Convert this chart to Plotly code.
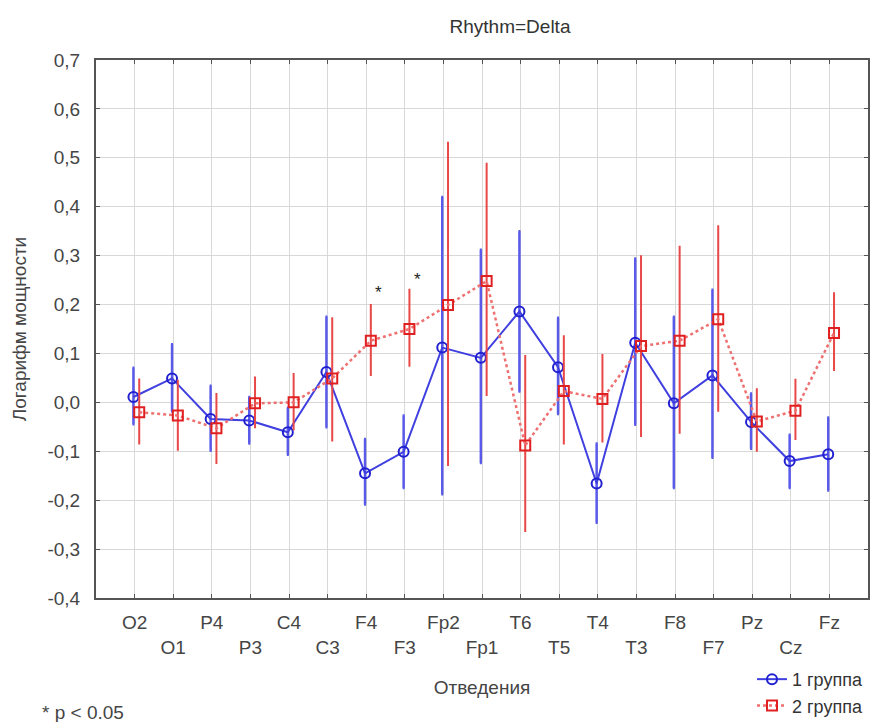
import plotly.graph_objects as go

leads = ["O2", "O1", "P4", "P3", "C4", "C3", "F4", "F3", "Fp2", "Fp1",
         "T6", "T5", "T4", "T3", "F8", "F7", "Pz", "Cz", "Fz"]

g1_mean = [0.011, 0.049, -0.034, -0.037, -0.061, 0.062, -0.145, -0.101, 0.112, 0.091,
           0.186, 0.072, -0.166, 0.122, -0.002, 0.055, -0.040, -0.120, -0.106]
g1_hi = [0.071, 0.119, 0.034, 0.011, -0.011, 0.175, -0.075, -0.027, 0.420, 0.312,
         0.350, 0.173, -0.084, 0.294, 0.175, 0.230, 0.018, -0.066, -0.031]
g1_lo = [-0.045, -0.018, -0.099, -0.084, -0.107, -0.051, -0.209, -0.175, -0.188, -0.124,
         0.022, -0.024, -0.246, -0.046, -0.175, -0.113, -0.095, -0.175, -0.180]

g2_mean = [-0.020, -0.027, -0.053, -0.002, 0.000, 0.049, 0.126, 0.150, 0.199, 0.248,
           -0.088, 0.023, 0.007, 0.115, 0.126, 0.170, -0.039, -0.017, 0.142]
g2_hi = [0.047, 0.044, 0.017, 0.051, 0.058, 0.172, 0.199, 0.230, 0.531, 0.488,
         0.095, 0.135, 0.097, 0.299, 0.318, 0.360, 0.027, 0.046, 0.223]
g2_lo = [-0.084, -0.097, -0.124, -0.051, -0.055, -0.078, 0.056, 0.075, -0.128, 0.015,
         -0.263, -0.084, -0.080, -0.069, -0.062, -0.017, -0.099, -0.075, 0.066]

sig_leads = ["F4", "F3"]
sig_y = [0.224, 0.252]

idx = list(range(len(leads)))
x1 = [i - 0.03 for i in idx]
x2 = [i + 0.12 for i in idx]

blue = "#4040e0"
blue_err = "#5a5aea"
red = "#e84848"
red_line = "#ee7070"
txt = "#454545"
FS = 19

fig = go.Figure()
fig.add_trace(go.Scatter(
    x=x1, y=g1_mean, mode="lines+markers", name="1 группа",
    line=dict(color=blue, width=2),
    marker=dict(symbol="circle-open", size=10, color="#2020d0", line=dict(width=2)),
    error_y=dict(type="data", symmetric=False,
                 array=[h - m for h, m in zip(g1_hi, g1_mean)],
                 arrayminus=[m - l for l, m in zip(g1_lo, g1_mean)],
                 color=blue_err, thickness=2.5, width=1),
))
fig.add_trace(go.Scatter(
    x=x2, y=g2_mean, mode="lines+markers", name="2 группа",
    line=dict(color=red_line, width=2.5, dash="dot"),
    marker=dict(symbol="square-open", size=10, color="#e02020", line=dict(width=2)),
    error_y=dict(type="data", symmetric=False,
                 array=[h - m for h, m in zip(g2_hi, g2_mean)],
                 arrayminus=[m - l for l, m in zip(g2_lo, g2_mean)],
                 color=red, thickness=2, width=1),
))

for lead, yv in zip(sig_leads, sig_y):
    i = leads.index(lead)
    fig.add_annotation(x=i + 0.33, y=yv, text="*", showarrow=False,
                       font=dict(size=17, color="#222"), xref="x", yref="y")

ticktext = [lab if i % 2 == 0 else "<br>" + lab for i, lab in enumerate(leads)]
yticks = [round(-0.4 + 0.1 * k, 1) for k in range(12)]
ytext = [f"{v:.1f}".replace(".", ",") for v in yticks]

fig.update_layout(
    width=873, height=722,
    margin=dict(l=96, r=5, t=60, b=124, autoexpand=False),
    paper_bgcolor="white", plot_bgcolor="white",
    font=dict(family="Liberation Sans, Arial, sans-serif", size=FS, color=txt),
    title=dict(text="Rhythm=Delta", x=510 / 873, xanchor="center", y=0.963, yanchor="middle",
               font=dict(size=FS, color="#333")),
    showlegend=True,
    legend=dict(x=1.0, xanchor="right", y=-0.117, yanchor="top",
                bgcolor="rgba(0,0,0,0)", font=dict(size=18, color="#333"),
                tracegroupgap=0, itemwidth=30),
)
fig.update_xaxes(
    range=[-1, 19], tickmode="array", tickvals=idx, ticktext=ticktext,
    showgrid=True, gridcolor="#d8d8d8", gridwidth=1,
    showline=True, linecolor="#555", linewidth=2, mirror="ticks",
    ticks="inside", ticklen=4, tickcolor="#555", ticklabelstandoff=6,
    tickfont=dict(size=FS, color=txt), zeroline=False, automargin=False,
    title=dict(text="Отведения", standoff=24, font=dict(size=FS, color=txt)),
)
fig.update_yaxes(
    range=[-0.4, 0.7], tickmode="array", tickvals=yticks, ticktext=ytext,
    showgrid=True, gridcolor="#d8d8d8", gridwidth=1,
    showline=True, linecolor="#555", linewidth=2, mirror="ticks",
    ticks="inside", ticklen=4, tickcolor="#555", ticklabelstandoff=10,
    tickfont=dict(size=FS, color=txt), zeroline=False, automargin=False,
    title=dict(text="Логарифм мощности", standoff=16, font=dict(size=FS, color=txt)),
)
fig.add_annotation(x=-0.0725, y=-0.212, xref="paper", yref="paper", text="* p < 0.05",
                   showarrow=False, xanchor="left", yanchor="middle",
                   font=dict(size=FS, color=txt))

fig.write_html("out.html")
